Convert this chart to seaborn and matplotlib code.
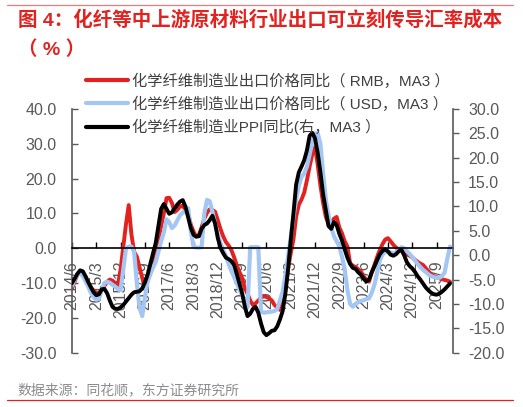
import numpy as np
import pandas as pd
import seaborn as sns
import matplotlib.pyplot as plt
from matplotlib.lines import Line2D

sns.set_theme(style="white")
plt.rcParams['font.family'] = ['Liberation Sans', 'Noto Sans CJK SC', 'DejaVu Sans']
plt.rcParams['axes.unicode_minus'] = False

# monthly data, 2014/6 onwards
start_month = "2014-06"

# 化学纤维制造业出口价格同比（RMB，MA3） - left axis
rmb = [-11.5, -9.5, -7.5, -7.0, -7.6, -8.8, -10.0, -11.2, -12.2, -12.8,
       -12.9, -12.0, -10.8, -9.6, -9.0, -9.3, -10.2, -10.5, -6.0, 0.5,
       7.0, 12.4, 4.0, -1.0, -2.4, -5.5, -8.5, -11.0, -9.5, -6.5,
       -3.0, 0.0, 3.0, 6.2, 10.0, 14.4, 14.5, 13.0, 10.4, 11.0,
       12.0, 12.2, 11.0, 9.8, 6.8, 4.8, 3.4, 3.8, 6.0, 8.5,
       10.2, 11.2, 11.0, 10.5, 8.0, 5.5, 3.4, 1.8, 0.8, -0.5,
       -2.5, -4.8, -6.8, -8.5, -11.5, -13.0, -15.0, -16.3, -15.8, -15.0,
       -14.2, -13.8, -14.0, -14.4, -15.0, -16.3, -17.0, -17.7, -15.0, -12.0,
       -6.0, -1.5, 2.5, 9.0, 12.5, 14.0, 16.0, 19.5, 23.5, 27.0,
       29.0, 24.0, 18.0, 13.0, 9.0, 7.0, 7.0, 8.5, 9.0, 6.0,
       4.3, 2.0, 0.5, -4.3, -5.0, -5.4, -6.0, -6.7, -8.0, -9.1,
       -9.6, -7.0, -4.8, -2.5, -0.5, 1.2, 2.5, 2.9, 2.0, 1.0,
       0.2, -0.3, -0.5, -1.2, -1.8, -2.1, -2.6, -3.3, -3.9, -4.4,
       -4.8, -5.7, -6.6, -7.5, -8.0, -8.3, -8.6, -8.9, -9.1, -9.3,
       -9.6]

# 化学纤维制造业出口价格同比（USD，MA3） - left axis
usd = [-10.8, -9.0, -7.5, -7.2, -8.0, -9.5, -11.0, -12.8, -14.0, -14.8,
       -14.5, -12.0, -10.0, -9.6, -9.9, -10.5, -11.0, -11.8, -12.0, -6.0,
       0.0, 0.5, 0.5, -1.0, -10.0, -17.0, -19.5, -14.0, -9.5, -7.5,
       -5.5, -4.0, -1.0, 2.0, 4.5, 8.3, 7.5, 5.8, 6.5, 8.0,
       9.5, 10.2, 10.8, 11.5, 5.0, 0.5, 0.2, 0.2, 0.3, 10.0,
       13.9, 13.5, 10.5, 7.0, 4.0, 1.5, -0.5, -2.2, -4.5, -6.5,
       -8.2, -10.0, -11.8, -13.5, -15.0, -17.0, 0.3, 0.3, 0.3, 0.3,
       -18.2, -18.5, -18.4, -18.3, -18.2, -18.0, -17.5, -15.0, -12.5, -8.0,
       -2.5, 3.0, 9.0, 13.9, 18.0, 20.5, 21.5, 23.4, 27.0, 30.5,
       33.0, 33.0, 30.0, 21.5, 14.0, 9.5, 6.0, 3.5, 2.0, 0.6,
       -2.5, -6.0, -12.0, -16.0, -16.8, -16.0, -15.5, -15.2, -14.9, -14.6,
       -14.4, -12.8, -10.5, -7.0, -3.5, -1.8, -1.0, -1.0, -1.2, -1.4,
       -1.2, -0.5, 0.3, 0.0, -0.8, -1.6, -2.5, -3.5, -4.5, -5.4,
       -6.2, -6.8, -7.5, -8.0, -8.3, -8.5, -8.5, -8.0, -7.0, -3.0,
       0.5]

# 化学纤维制造业PPI同比 - right axis
ppi = [-5.7, -4.8, -3.8, -3.1, -3.3, -4.3, -5.5, -6.6, -7.6, -8.2,
       -8.0, -7.0, -6.9, -7.8, -9.3, -10.6, -11.0, -11.0, -10.7, -10.2,
       -9.5, -8.8, -8.1, -7.6, -7.5, -7.4, -6.8, -5.6, -4.0, -1.8,
       0.4, 2.5, 6.0, 9.5, 10.5, 9.5, 8.5, 8.8, 9.6, 10.4,
       11.0, 11.3, 10.0, 7.8, 5.6, 4.2, 3.8, 3.9, 5.4, 6.2,
       6.5, 7.2, 8.1, 6.5, 3.5, 1.5, 0.4, -0.5, -0.8, -1.2,
       -2.0, -3.8, -5.8, -7.8, -10.5, -12.5, -12.0, -11.0, -10.6, -11.8,
       -14.0, -15.8, -16.4, -16.0, -15.5, -15.4, -14.6, -13.2, -11.5, -8.0,
       -3.0, 3.0, 8.5, 14.5, 17.0, 18.2, 19.5, 21.5, 24.5, 25.1,
       24.0, 21.0, 17.0, 12.5, 9.3, 6.0, 5.4, 6.8, 6.2, 4.4,
       3.0, 1.2, -0.5, -1.8, -2.6, -2.8, -3.5, -4.0, -4.8, -5.4,
       -5.0, -3.5, -2.3, -1.0, 0.2, 0.9, 1.2, 0.8, 0.1, -0.1,
       0.2, 0.8, 1.1, 0.0, -1.4, -2.2, -2.7, -3.4, -4.3, -5.0,
       -5.8, -6.6, -7.2, -7.7, -8.0, -8.1, -7.9, -7.5, -7.0, -6.4,
       -5.8]

labels = ["化学纤维制造业出口价格同比（ RMB，MA3 ）",
          "化学纤维制造业出口价格同比（ USD，MA3 ）",
          "化学纤维制造业PPI同比(右，MA3 ）"]
colors = ["#E3211E", "#A3C6F5", "#000000"]

dates = pd.date_range(start_month, periods=len(rmb), freq="MS")
df = pd.DataFrame({"t": np.arange(len(rmb)), "rmb": rmb, "usd": usd, "ppi": ppi})
tick_idx = list(range(0, len(rmb), 9))
tick_lab = [f"{dates[i].year}/{dates[i].month}" for i in tick_idx]

gray = "#595959"
fig = plt.figure(figsize=(5.23, 4.07), dpi=100)
ax = fig.add_axes([0.1377, 0.1334, 0.7279, 0.5988])
ax2 = ax.twinx()

sns.lineplot(data=df, x="t", y="rmb", ax=ax, color=colors[0], lw=2.8)
sns.lineplot(data=df, x="t", y="usd", ax=ax, color=colors[1], lw=3.0)
sns.lineplot(data=df, x="t", y="ppi", ax=ax2, color=colors[2], lw=2.8)

ax.set_xlim(0, len(rmb))
ax.set_ylim(-30, 40)
ax2.set_ylim(-20, 30)
ax.set_yticks(np.arange(-30, 41, 10))
ax.set_yticklabels([f"{v:.1f}" for v in np.arange(-30, 41, 10)])
ax2.set_yticks(np.arange(-20, 31, 5))
ax2.set_yticklabels([f"{v:.1f}" for v in np.arange(-20, 31, 5)])
ax.set_xticks(tick_idx)
ax.set_xticklabels(tick_lab)
for a in (ax, ax2):
    a.set_xlabel("")
    a.set_ylabel("")
    a.grid(False)
    a.set_facecolor("none")

ax.spines["top"].set_visible(False)
ax.spines["right"].set_visible(False)
ax.spines["bottom"].set_position(("data", 0))
ax.spines["bottom"].set_color("black")
ax.spines["bottom"].set_linewidth(1.2)
ax.spines["left"].set_color(gray)
ax.spines["left"].set_linewidth(1.2)
for s in ("top", "bottom", "left"):
    ax2.spines[s].set_visible(False)
ax2.spines["right"].set_color(gray)
ax2.spines["right"].set_linewidth(1.2)

ax.tick_params(axis="x", direction="in", length=4, width=1, color="black",
               labelsize=11.5, labelcolor=gray, pad=9, bottom=True,
               labelrotation=90)
ax.tick_params(axis="y", direction="in", length=4, width=1, color=gray,
               labelsize=11.5, labelcolor=gray, pad=11, left=True)
ax2.tick_params(axis="y", direction="out", length=4, width=1, color=gray,
                labelsize=11.5, labelcolor=gray, pad=7, right=True)
for t in ax.get_xticklabels():
    t.set_rotation(90)
    t.set_va("top")
    t.set_ha("center")

handles = [Line2D([], [], color=c, lw=3) for c in colors]
fig.legend(handles, labels, loc="upper left", bbox_to_anchor=(0.164, 0.82),
           frameon=False, fontsize=11, handlelength=2.75, handletextpad=0.3,
           labelspacing=0.5, borderpad=0, borderaxespad=0, labelcolor="#404040")

red = "#E3211E"
fig.text(0.034, 0.951, "图 4：化纤等中上游原材料行业出口可立刻传导汇率成本",
         color=red, fontsize=14, fontweight="bold", va="center", ha="left")
fig.text(0.034, 0.878, "（ % ）", color=red, fontsize=14, fontweight="bold",
         va="center", ha="left")
fig.text(0.034, 0.042, "数据来源：同花顺，东方证券研究所", color="#8C8C8C",
         fontsize=10, va="center", ha="left")
fig.add_artist(Line2D([0.013, 0.981], [0.988, 0.988], color="#EE7B7B", lw=0.9))
fig.add_artist(Line2D([0.013, 0.981], [0.016, 0.016], color="#E3211E", lw=0.9))

fig.savefig("out.png", dpi=100)
